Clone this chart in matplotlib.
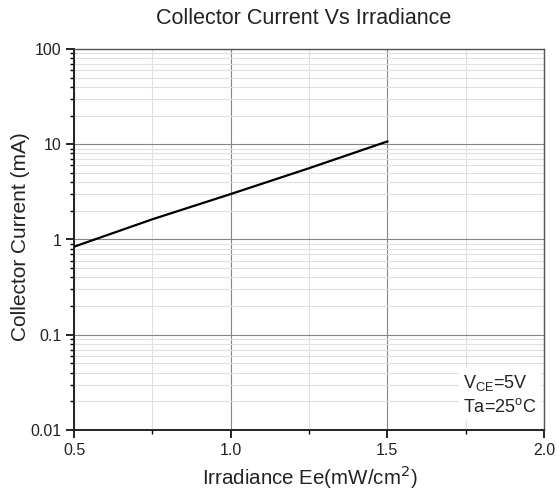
import numpy as np
import matplotlib
matplotlib.use("Agg")
import matplotlib.pyplot as plt
from matplotlib.ticker import FixedLocator, LogLocator, NullFormatter, FixedFormatter

plt.rcParams['font.family'] = ['Liberation Sans', 'DejaVu Sans']

# Collector current vs irradiance (VCE = 5 V, Ta = 25 °C)
irradiance = [0.5, 0.75, 1.0, 1.25, 1.5]          # mW/cm^2
collector_current = [0.84, 1.63, 3.0, 5.6, 10.7]  # mA

x_ticks = [0.5, 1.0, 1.5, 2.0]
x_tick_labels = ["0.5", "1.0", "1.5", "2.0"]
y_ticks = [0.01, 0.1, 1, 10, 100]
y_tick_labels = ["0.01", "0.1", "1", "10", "100"]

fig = plt.figure(figsize=(5.59, 4.90), dpi=100)
ax = fig.add_axes([74/559, 1-430/490, (544-74)/559, (430-49)/490])

ax.plot(irradiance, collector_current, color="black", lw=1.6, zorder=3)

ax.set_yscale("log")
ax.set_xlim(0.5, 2.0)
ax.set_ylim(0.01, 100)

ax.xaxis.set_major_locator(FixedLocator(x_ticks))
ax.xaxis.set_major_formatter(FixedFormatter(x_tick_labels))
ax.xaxis.set_minor_locator(FixedLocator([0.75, 1.25, 1.75]))
ax.yaxis.set_major_locator(FixedLocator(y_ticks))
ax.yaxis.set_major_formatter(FixedFormatter(y_tick_labels))
ax.yaxis.set_minor_locator(LogLocator(base=10, subs=np.arange(2, 10), numticks=20))
ax.yaxis.set_minor_formatter(NullFormatter())

ax.grid(which="major", color="#858585", lw=0.8)
ax.grid(which="minor", color="#e0e0e0", lw=0.8)

ax.tick_params(axis="both", which="major", direction="out", length=6, width=1.2,
               labelsize=11.5, colors="black", labelcolor="#222222", pad=3)
ax.tick_params(axis="both", which="minor", direction="out", length=3, width=1.0)
ax.tick_params(top=False, right=False)

for side in ("left", "bottom"):
    ax.spines[side].set_linewidth(1.4)
    ax.spines[side].set_color("#222222")
for side in ("top", "right"):
    ax.spines[side].set_linewidth(1.0)
    ax.spines[side].set_color("#555555")

fig.text(304/559, 1-19/490, "Collector Current Vs Irradiance", ha="center", va="center",
         fontsize=15.5, color="#222222")
fig.text(21/559, 1-237/490, "Collector Current (mA)", ha="center", va="center",
         rotation=90, fontsize=15, color="#222222")
fig.text(310/559, 1-477/490, "Irradiance Ee(mW/cm$^2$)", ha="center", va="center",
         fontsize=14.8, color="#222222")

ax.text(0.828, 0.094, "V$_{\\mathregular{CE}}$=5V\nTa=25$^{\\mathregular{o}}$C",
        transform=ax.transAxes, ha="left", va="center", fontsize=13,
        color="#222222", linespacing=1.35,
        bbox=dict(facecolor="white", edgecolor="none", pad=3), zorder=4)

fig.savefig("out.png", dpi=100)
